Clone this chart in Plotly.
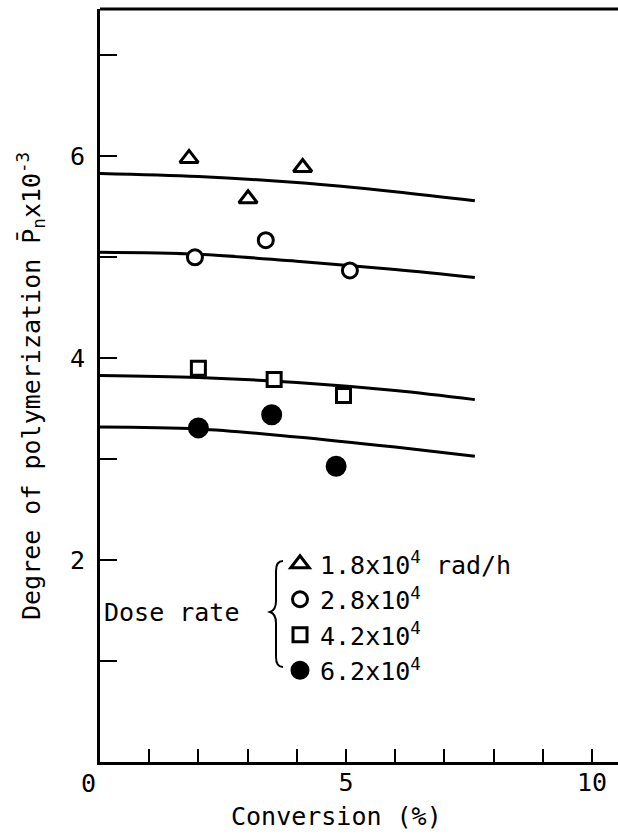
import plotly.graph_objects as go

FONT = "DejaVu Sans Mono"

# ---- data ----
curve_x = [0, 2, 4, 6, 7.62]
curve_tri = [5.83, 5.80, 5.74, 5.65, 5.56]
curve_circ = [5.05, 5.03, 4.96, 4.88, 4.80]
curve_sq = [3.83, 3.81, 3.76, 3.68, 3.59]
curve_fill = [3.32, 3.30, 3.22, 3.12, 3.03]

tri_x = [1.81, 3.01, 4.12]
tri_y = [5.98, 5.58, 5.89]
circ_x = [1.93, 3.37, 5.08]
circ_y = [5.00, 5.17, 4.87]
sq_x = [2.00, 3.54, 4.95]
sq_y = [3.90, 3.79, 3.63]
fill_x = [2.00, 3.49, 4.80]
fill_y = [3.31, 3.44, 2.93]

labels = ["1.8x10<sup>4</sup> rad/h", "2.8x10<sup>4</sup>", "4.2x10<sup>4</sup>", "6.2x10<sup>4</sup>"]

x_tickvals = [5, 10]
x_ticktext = ["5", "10"]
y_tickvals = [2, 4, 6]
y_ticktext = ["2", "4", "6"]

W, H = 618, 837
ML, MR, MT, MB = 100, 0, 9, 75
PW, PH = W - ML - MR, H - MT - MB


def px(x, y):
    return (x - ML) / PW, (H - MB - y) / PH


fig = go.Figure()

curves = [curve_tri, curve_circ, curve_sq, curve_fill]
for cy in curves:
    fig.add_trace(go.Scatter(x=curve_x, y=cy, mode="lines",
                             line=dict(color="black", width=3, shape="spline"),
                             showlegend=False, hoverinfo="skip"))

series = [
    (tri_x, tri_y, "triangle-up", 16, "white", labels[0]),
    (circ_x, circ_y, "circle", 15, "white", labels[1]),
    (sq_x, sq_y, "square", 14, "white", labels[2]),
    (fill_x, fill_y, "circle", 18, "black", labels[3]),
]
for i, (sx, sy, sym, sz, fillc, name) in enumerate(series):
    fig.add_trace(go.Scatter(x=sx, y=sy, mode="markers", name=name,
                             marker=dict(symbol=sym, size=sz, color=fillc,
                                         line=dict(color="black", width=3))))

# brace
pts = [(283, 561), (276, 561), (276, 571), (276, 601), (276, 610), (270, 612),
       (276, 614), (276, 623), (276, 657), (276, 667), (283, 667)]
p = [px(a, b) for a, b in pts]
path = (f"M {p[0][0]},{p[0][1]} Q {p[1][0]},{p[1][1]} {p[2][0]},{p[2][1]} "
        f"L {p[3][0]},{p[3][1]} Q {p[4][0]},{p[4][1]} {p[5][0]},{p[5][1]} "
        f"Q {p[6][0]},{p[6][1]} {p[7][0]},{p[7][1]} L {p[8][0]},{p[8][1]} "
        f"Q {p[9][0]},{p[9][1]} {p[10][0]},{p[10][1]}")

shapes = [
    dict(type="path", xref="paper", yref="paper", path=path,
         line=dict(color="black", width=2)),
    dict(type="line", xref="paper", yref="paper", x0=0, x1=1, y0=1, y1=1,
         line=dict(color="black", width=3)),
]

annotations = [
    dict(text="Dose rate", xref="paper", yref="paper",
         x=px(102, 612)[0], y=px(102, 612)[1], xanchor="left", yanchor="middle",
         showarrow=False, font=dict(family=FONT, size=25, color="black")),
    dict(text="0", xref="paper", yref="paper",
         x=px(88, 783)[0], y=px(88, 783)[1], xanchor="center", yanchor="middle",
         showarrow=False, font=dict(family=FONT, size=25, color="black")),
    dict(text="Conversion (%)", xref="paper", yref="paper",
         x=px(336, 816)[0], y=px(336, 816)[1], xanchor="center", yanchor="middle",
         showarrow=False, font=dict(family=FONT, size=25, color="black")),
    dict(text="Degree of polymerization P\u0304<sub>n</sub>x10<sup>-3</sup>",
         xref="paper", yref="paper", textangle=-90,
         x=px(31, 386)[0], y=px(31, 386)[1], xanchor="center", yanchor="middle",
         showarrow=False, font=dict(family=FONT, size=25, color="black")),
]

fig.update_layout(
    width=W, height=H,
    margin=dict(l=ML, r=MR, t=MT, b=MB, pad=0),
    paper_bgcolor="white", plot_bgcolor="white",
    font=dict(family=FONT, size=25, color="black"),
    shapes=shapes, annotations=annotations,
    legend=dict(x=px(280, 0)[0], xanchor="left", y=px(0, 541)[1], yanchor="top",
                bgcolor="rgba(0,0,0,0)", borderwidth=0, tracegroupgap=0,
                font=dict(family=FONT, size=25, color="black")),
    xaxis=dict(range=[0, 10.53], showgrid=False, zeroline=False,
               showline=True, linecolor="black", linewidth=3,
               ticks="inside", ticklen=13, tickwidth=2, tickcolor="black",
               tickvals=x_tickvals, ticktext=x_ticktext,
               minor=dict(ticks="inside", ticklen=13, tickwidth=2,
                          tickcolor="black", tick0=0, dtick=1, showgrid=False),
               ticklabelstandoff=-4,
               tickfont=dict(family=FONT, size=25, color="black")),
    yaxis=dict(range=[0, 7.46], showgrid=False, zeroline=False,
               showline=True, linecolor="black", linewidth=3,
               ticks="inside", ticklen=17, tickwidth=2, tickcolor="black",
               tickvals=y_tickvals, ticktext=y_ticktext,
               minor=dict(ticks="inside", ticklen=17, tickwidth=2,
                          tickcolor="black", tick0=0, dtick=1, showgrid=False),
               ticklabelstandoff=7,
               tickfont=dict(family=FONT, size=25, color="black")),
)

fig.write_html("out.html")
